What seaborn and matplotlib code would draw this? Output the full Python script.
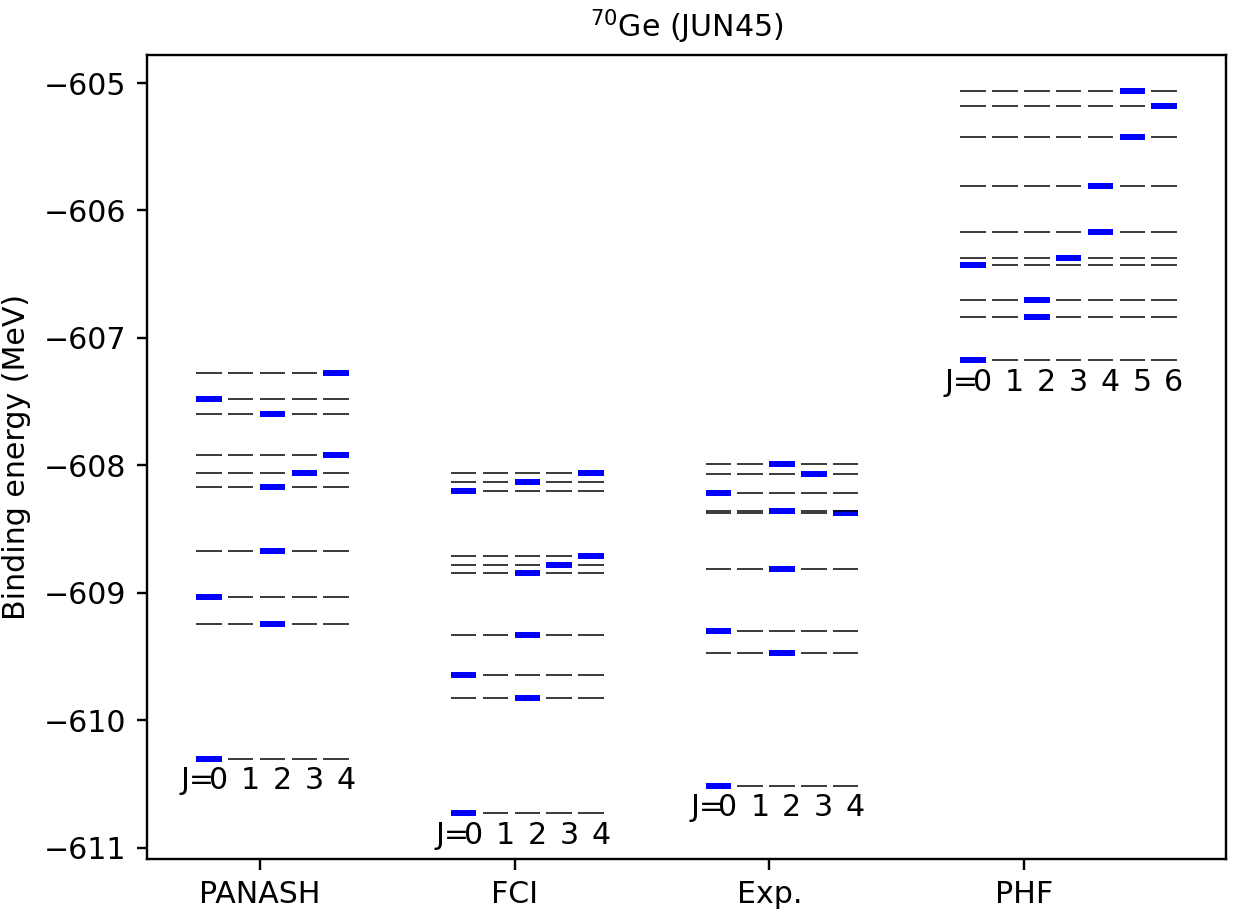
import numpy as np
import pandas as pd
import matplotlib
matplotlib.use("Agg")
import matplotlib.pyplot as plt
import seaborn as sns

# Level data (MeV)
groups = ["PANASH", "FCI", "Exp.", "PHF"]
n_spins = [5, 5, 5, 7]

panash_E = [-610.302, -609.244, -609.032, -608.671, -608.174, -608.059,
            -607.917, -607.596, -607.476, -607.274]
panash_J = [0, 2, 0, 2, 2, 3, 4, 2, 0, 4]

fci_E = [-610.728, -609.827, -609.647, -609.331, -608.842, -608.781,
         -608.713, -608.200, -608.129, -608.059]
fci_J = [0, 2, 0, 2, 2, 3, 4, 0, 2, 4]

exp_E = [-610.514, -609.477, -609.304, -608.812, -608.372, -608.362,
         -608.216, -608.072, -607.988]
exp_J = [0, 2, 0, 2, 4, 2, 0, 3, 2]

phf_E = [-607.177, -606.840, -606.699, -606.432, -606.374, -606.167,
         -605.808, -605.427, -605.178, -605.063]
phf_J = [0, 2, 2, 0, 3, 4, 4, 5, 6, 5]

rows = []
for g, (E, J) in enumerate([(panash_E, panash_J), (fci_E, fci_J),
                            (exp_E, exp_J), (phf_E, phf_J)]):
    for e, j in zip(E, J):
        rows.append({"group": g, "E": e, "J": j})
df = pd.DataFrame(rows)

sns.set_style("ticks", rc={"axes.edgecolor": "black", "text.color": "black",
                           "axes.labelcolor": "black", "xtick.color": "black",
                           "ytick.color": "black", "xtick.direction": "out",
                           "ytick.direction": "out"})
plt.rcParams['font.family'] = ['DejaVu Sans']
plt.rcParams['font.size'] = 10
plt.rcParams['mathtext.default'] = 'regular'

dpi = 216
fig = plt.figure(figsize=(1237 / dpi, 913 / dpi), dpi=dpi)
ax = fig.add_axes([147 / 1237, 1 - 859 / 913, (1226 - 147) / 1237, (859 - 55) / 913])

step = 0.125   # spacing between J columns
width = 0.1    # length of each level segment

for _, r in df.iterrows():
    g = int(r["group"])
    x0 = g - 0.25 + step * np.arange(n_spins[g])
    ax.hlines([r["E"]] * n_spins[g], x0, x0 + width, colors="black", lw=0.5)
    xb = g - 0.25 + step * r["J"]
    ax.hlines(r["E"], xb, xb + width, colors="blue", lw=2)

# J labels below the ground state of each spectrum
for g in range(len(groups)):
    e0 = df.loc[df["group"] == g, "E"].min()
    xc = g - 0.25 + width / 2 + step * np.arange(n_spins[g])
    ax.text(xc[0] + 0.023, e0 - 0.06, "J=", ha="right", va="top")
    for j, x in enumerate(xc):
        ax.text(x + 0.038, e0 - 0.06, str(j), ha="center", va="top")

ax.set_xticks(range(len(groups)))
ax.set_xticklabels(groups)
ax.set_ylim(-611.09, -604.78)
ax.set_ylabel("Binding energy (MeV)")
ax.set_title("$^{70}$Ge (JUN45)", fontsize=10)

fig.savefig("out.png", dpi=dpi)
